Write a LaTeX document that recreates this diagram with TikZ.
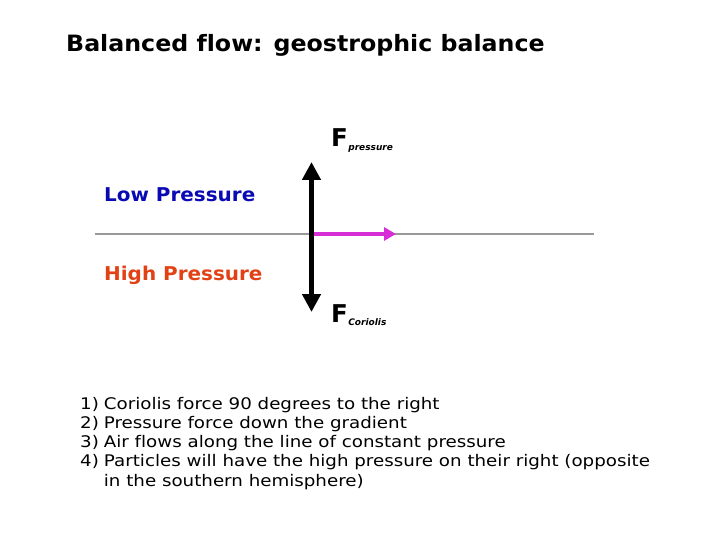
\documentclass[tikz,border=0pt]{standalone}
\usepackage{fontspec}
\setmainfont{DejaVu Sans}[Ligatures=NoCommon]
\newfontfamily\titlefont{DejaVu Sans}[FakeStretch=1.053, Ligatures=NoCommon]
\newfontfamily\labelfont{DejaVu Sans}[FakeStretch=1.05]
\newfontfamily\listfont{DejaVu Sans}[FakeStretch=1.14, Ligatures=NoCommon]
\usetikzlibrary{arrows.meta}
\definecolor{lowblue}{RGB}{10,10,180}
\definecolor{highred}{RGB}{225,65,20}
\definecolor{flowmag}{RGB}{215,45,215}
\begin{document}
\begin{tikzpicture}[x=1pt, y=-1pt, every node/.style={inner sep=0pt, anchor=base west}]

    % frame
    \useasboundingbox (0,0) rectangle (720,540);

    % title
    \node[font=\titlefont\bfseries\fontsize{22.5}{27}\selectfont] (title) at (66,52) {Balanced flow: geostrophic balance};

    % pressure labels
    \node[font=\labelfont\bfseries\fontsize{19}{23}\selectfont, lowblue] (low) at (104,202) {Low Pressure};
    \node[font=\labelfont\bfseries\fontsize{19}{23}\selectfont, highred] (high) at (104,280) {High Pressure};

    % isobar
    \coordinate (isoL) at (95,234);
    \coordinate (isoR) at (594,234);
    \draw[gray!80, line width=2pt] (isoL) -- (isoR);

    % forces
    \coordinate (ftop) at (311.5,162);
    \coordinate (fbot) at (311.5,312);
    \draw[line width=5.5pt, {Triangle[length=18pt,width=18pt]}-{Triangle[length=18pt,width=18pt]}] (ftop) -- (fbot);

    % flow
    \coordinate (flowS) at (314,234);
    \coordinate (flowE) at (396,234);
    \draw[flowmag, line width=4.5pt, -{Triangle[length=12pt,width=13pt]}] (flowS) -- (flowE);

    % force labels
    \node[font=\bfseries\fontsize{24.5}{28}\selectfont] (fp) at (331,147) {F};
    \node[font=\bfseries\itshape\fontsize{9}{10}\selectfont] (fpsub) at (fp.base east) [yshift=-4pt] {pressure};
    \node[font=\bfseries\fontsize{24.5}{28}\selectfont] (fc) at (331,322) {F};
    \node[font=\bfseries\itshape\fontsize{9}{10}\selectfont] (fcsub) at (fc.base east) [yshift=-3.5pt] {Coriolis};

    % notes
    \node[font=\listfont\fontsize{16}{19.3}\selectfont] (notes) at (80,409) {%
      \begin{tabular}[t]{@{}l@{\hspace{5pt}}l@{}}
        1) & Coriolis force 90 degrees to the right\\
        2) & Pressure force down the gradient\\
        3) & Air flows along the line of constant pressure\\
        4) & Particles will have the high pressure on their right (opposite\\
           & in the southern hemisphere)
      \end{tabular}};

\end{tikzpicture}
\end{document}
